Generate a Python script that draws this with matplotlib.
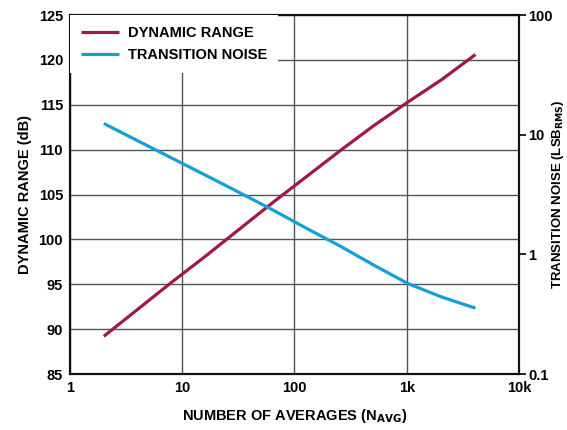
import matplotlib
matplotlib.use("Agg")
import matplotlib.pyplot as plt
from matplotlib.ticker import FixedLocator, NullLocator, FixedFormatter

plt.rcParams["font.family"] = ["Liberation Sans", "DejaVu Sans"]
plt.rcParams["font.weight"] = "bold"

# number of averages (powers of two)
n_avg = [2, 4, 8, 16, 32, 64, 128, 256, 512, 1024, 2048, 4096]
dynamic_range = [89.2, 92.2, 95.2, 98.1, 101.1, 104.1, 107.0, 109.9, 112.7, 115.3, 117.8, 120.6]
transition_noise = [12.4, 8.9, 6.4, 4.6, 3.3, 2.35, 1.65, 1.17, 0.81, 0.57, 0.44, 0.355]

x_ticks = [1, 10, 100, 1000, 10000]
x_labels = ["1", "10", "100", "1k", "10k"]
left_ticks = [85, 90, 95, 100, 105, 110, 115, 120, 125]
right_ticks = [0.1, 1, 10, 100]
right_labels = ["0.1", "1", "10", "100"]

dr_color = "#A0193F"
tn_color = "#13A0D8"
fs = 10.5

fig = plt.figure(figsize=(5.67, 4.30), dpi=100)
ax = fig.add_axes([0.1235, 0.1302, 0.7918, 0.8349])
ax2 = ax.twinx()

l1, = ax.plot(n_avg, dynamic_range, color=dr_color, lw=2.3, solid_capstyle="butt")
l2, = ax2.plot(n_avg, transition_noise, color=tn_color, lw=2.3, solid_capstyle="butt")

ax.set_xscale("log")
ax.set_xlim(1, 10000)
ax.set_ylim(85, 125)
ax.xaxis.set_major_locator(FixedLocator(x_ticks))
ax.xaxis.set_major_formatter(FixedFormatter(x_labels))
ax.xaxis.set_minor_locator(NullLocator())
ax.set_yticks(left_ticks)
ax.tick_params(axis="both", length=0, labelsize=fs, pad=5)
ax.grid(True, color="#555555", lw=1.0)

ax2.set_yscale("log")
ax2.set_ylim(0.1, 100)
ax2.yaxis.set_major_locator(FixedLocator(right_ticks))
ax2.yaxis.set_major_formatter(FixedFormatter(right_labels))
ax2.yaxis.set_minor_locator(NullLocator())
ax2.tick_params(axis="y", length=5, width=1.2, labelsize=fs, pad=1.5)

for a in (ax, ax2):
    for s in a.spines.values():
        s.set_linewidth(1.5)
        s.set_color("#111111")

ax.set_xlabel("NUMBER OF AVERAGES (N$_\\mathbf{AVG}$)", fontsize=fs, fontweight="bold", labelpad=9)
ax.set_ylabel("DYNAMIC RANGE (dB)", fontsize=fs, fontweight="bold", labelpad=5)
ax2.set_ylabel("TRANSITION NOISE (LSB$_\\mathbf{RMS}$)", fontsize=9.5, fontweight="bold", labelpad=-2)

leg = ax2.legend([l1, l2], ["DYNAMIC RANGE", "TRANSITION NOISE"], loc="upper left",
                 bbox_to_anchor=(0.0, 1.0), frameon=True, fontsize=fs,
                 handlelength=2.6, handletextpad=0.6, borderpad=0.75,
                 labelspacing=0.55, fancybox=False, borderaxespad=0.0)
leg.get_frame().set_facecolor("white")
leg.get_frame().set_edgecolor("none")
leg.get_frame().set_alpha(1.0)
for t in leg.get_texts():
    t.set_fontweight("bold")

fig.savefig("out.png", dpi=100)
